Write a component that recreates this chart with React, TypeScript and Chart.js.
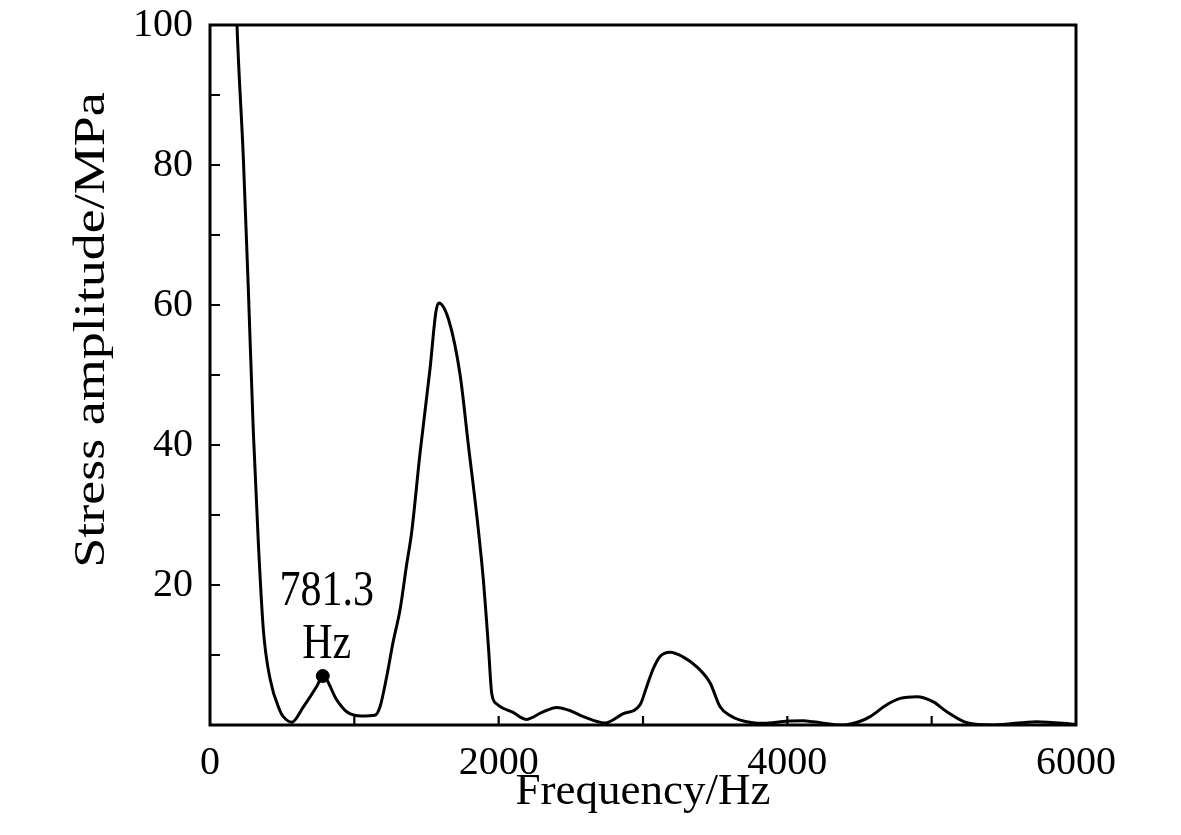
import React, { useEffect, useRef } from "react";
import { Chart, registerables } from "chart.js";

Chart.register(...registerables);

// ---- data ----
const freqHz = [
  170, 187, 231, 266, 300, 335, 370, 416, 485, 508, 566, 647, 739, 781.3, 878, 947, 1051, 1143,
  1178, 1224, 1270, 1317, 1363, 1397, 1455, 1525, 1565, 1585, 1652, 1733, 1790, 1848, 1894,
  1929, 1952, 1987, 2100, 2190, 2300, 2403, 2500, 2587, 2737, 2860, 2980, 3026, 3070, 3118,
  3188, 3280, 3373, 3465, 3534, 3600, 3673, 3834, 3996, 4112, 4181, 4389, 4500, 4574, 4689,
  4782, 4897, 5012, 5105, 5244, 5428, 5728, 6000,
];
const stressMPa = [
  112, 100, 81, 62, 42, 26, 13.5, 6.6, 2.0, 1.2, 0.4, 2.6, 5.5, 7.0, 3.6, 1.9, 1.3, 1.4,
  2.6, 6.9, 12, 16.5, 23, 27.5, 38.8, 51, 59, 60.3, 58, 50, 40, 30, 20.7,
  11.2, 4.5, 3.0, 1.8, 0.8, 1.8, 2.5, 2.0, 1.2, 0.3, 1.6, 2.9, 5.5, 8.0, 9.8,
  10.4, 9.7, 8.3, 6.0, 2.6, 1.4, 0.7, 0.25, 0.55, 0.6, 0.45, 0.0, 0.5, 1.2, 2.9,
  3.8, 4.05, 3.3, 1.9, 0.33, 0.0, 0.48, 0.1,
];
const peakFreq = [781.3];
const peakStress = [7.0];
const peakLabelLines = ["781.3", "Hz"];

const xLabelledTicks = [0, 2000, 4000, 6000];
const yLabelledTicks = [20, 40, 60, 80, 100];
const xTickMarks = [1000, 2000, 3000, 4000, 5000];
const yTickMarks = [10, 20, 30, 40, 50, 60, 70, 80, 90];

const xTitle = "Frequency/Hz";
const yTitle = "Stress amplitude/MPa";

const FONT = '"Liberation Serif", "Times New Roman", serif';

const framePlugin = {
  id: "frameAndNotes",
  afterDraw(chart: any) {
    const { ctx, chartArea: a, scales } = chart;
    const xs = scales.x;
    const ys = scales.y;
    ctx.save();
    ctx.strokeStyle = "#000";
    ctx.lineWidth = 3;
    ctx.strokeRect(a.left, a.top, a.right - a.left, a.bottom - a.top);
    ctx.lineWidth = 2.2;
    ctx.beginPath();
    yTickMarks.forEach((v) => {
      const py = ys.getPixelForValue(v);
      ctx.moveTo(a.left, py);
      ctx.lineTo(a.left + 10, py);
    });
    xTickMarks.forEach((v) => {
      const px = xs.getPixelForValue(v);
      ctx.moveTo(px, a.bottom);
      ctx.lineTo(px, a.bottom - 9);
    });
    ctx.stroke();

    // y-axis title
    ctx.fillStyle = "#000";
    ctx.textAlign = "center";
    ctx.textBaseline = "middle";
    ctx.save();
    ctx.translate(92, (a.top + a.bottom) / 2 - 45);
    ctx.rotate(-Math.PI / 2);
    ctx.scale(1.2, 1);
    ctx.font = `45px ${FONT}`;
    ctx.fillText(yTitle, 0, 0);
    ctx.restore();

    // peak annotation
    const px = xs.getPixelForValue(peakFreq[0]);
    const py = ys.getPixelForValue(peakStress[0]);
    ctx.font = `42px ${FONT}`;
    ctx.save();
    ctx.translate(px + 4, py - 84);
    ctx.scale(1, 1.2);
    ctx.fillText(peakLabelLines[0], 0, 0);
    ctx.restore();
    ctx.save();
    ctx.translate(px + 4, py - 31);
    ctx.scale(1, 1.2);
    ctx.fillText(peakLabelLines[1], 0, 0);
    ctx.restore();
    ctx.restore();
  },
};

export default function App() {
  const ref = useRef<HTMLCanvasElement>(null);
  useEffect(() => {
    const chart = new Chart(ref.current as HTMLCanvasElement, {
      type: "line",
      data: {
        datasets: [
          {
            label: "spectrum",
            data: freqHz.map((f, i) => ({ x: f, y: stressMPa[i] })),
            borderColor: "#000",
            borderWidth: 3,
            pointRadius: 0,
            cubicInterpolationMode: "monotone",
            fill: false,
          },
          {
            label: "peak",
            data: peakFreq.map((f, i) => ({ x: f, y: peakStress[i] })),
            showLine: false,
            pointRadius: 6.5,
            pointBackgroundColor: "#000",
            pointBorderColor: "#000",
          },
        ],
      },
      options: {
        animation: false,
        responsive: true,
        maintainAspectRatio: false,
        layout: { padding: { left: 0, top: 25, right: 105, bottom: 0 } },
        plugins: { legend: { display: false }, tooltip: { enabled: false } },
        events: [],
        scales: {
          x: {
            type: "linear",
            min: 0,
            max: 6000,
            grid: { display: false, drawTicks: false },
            border: { display: false },
            afterBuildTicks: (s: any) => {
              s.ticks = xLabelledTicks.map((v) => ({ value: v }));
            },
            afterFit: (s: any) => {
              s.height = 110;
              s.paddingLeft = 0;
              s.paddingRight = 0;
              s.paddingTop = 0;
              s.paddingBottom = 0;
            },
            ticks: {
              color: "#000",
              padding: 14,
              maxRotation: 0,
              autoSkip: false,
              callback: (v: any) => String(v),
              font: { family: FONT, size: 40 },
            },
            title: {
              display: true,
              text: xTitle,
              color: "#000",
              font: { family: FONT, size: 45 },
              padding: { top: 0, bottom: 16 },
            },
          },
          y: {
            type: "linear",
            min: 0,
            max: 100,
            grid: { display: false, drawTicks: false },
            border: { display: false },
            afterBuildTicks: (s: any) => {
              s.ticks = yLabelledTicks.map((v) => ({ value: v }));
            },
            afterFit: (s: any) => {
              s.width = 210;
              s.paddingLeft = 0;
              s.paddingRight = 0;
              s.paddingTop = 0;
              s.paddingBottom = 0;
            },
            ticks: {
              color: "#000",
              padding: 17,
              autoSkip: false,
              callback: (v: any) => String(v),
              font: { family: FONT, size: 40 },
            },
          },
        },
      },
      plugins: [framePlugin],
    } as any);
    return () => chart.destroy();
  }, []);
  return (
    <div style={{ position: "fixed", left: 0, top: 0, width: 1181, height: 835, background: "#fff" }}>
      <canvas ref={ref} />
    </div>
  );
}
